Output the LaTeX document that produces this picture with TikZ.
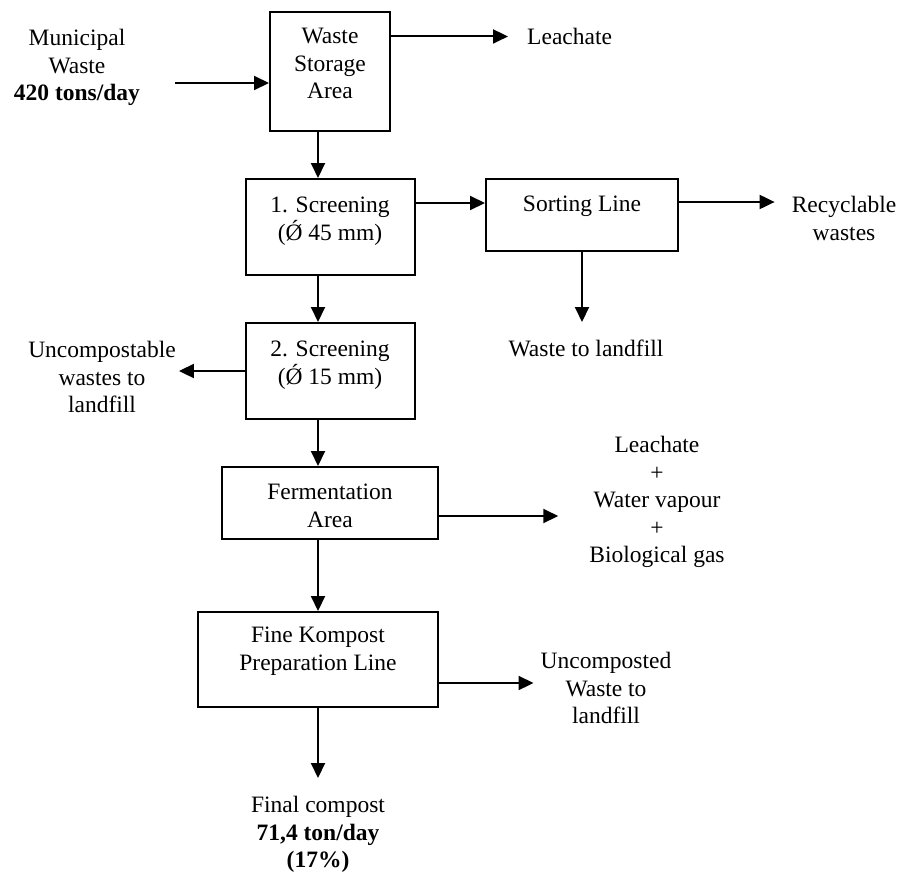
\documentclass[tikz,border=0pt]{standalone}
\usepackage{fontspec}
\setmainfont{Liberation Serif}
\usetikzlibrary{arrows.meta}

\begin{document}
\begin{tikzpicture}[x=1pt, y=-1pt,
    >={Triangle[length=15pt, width=14pt]},
    unit/.style={draw, line width=2pt, inner sep=0pt},
    txt/.style={font=\fontsize{23.5}{27.5}\selectfont, align=center,
        inner sep=0pt, anchor=north},
    flow/.style={->, line width=2pt}]
    \useasboundingbox (0,0) rectangle (904,873);

    % process units
    \node[unit, minimum width=120, minimum height=119] (storage) at (330,71) {};
    \node[unit, minimum width=169, minimum height=96] (screen1) at (330.5,227) {};
    \node[unit, minimum width=192, minimum height=72] (sorting) at (582,215) {};
    \node[unit, minimum width=169, minimum height=96] (screen2) at (330.5,371) {};
    \node[unit, minimum width=216, minimum height=72] (ferment) at (330,503) {};
    \node[unit, minimum width=240, minimum height=95] (fine) at (318,659.5) {};

    \node[txt] (storage-t) at (330,28) {Waste\\Storage\\Area};
    \node[txt] (screen1-t) at (330,197) {1. Screening\\(Ǿ 45 mm)};
    \node[txt] (sorting-t) at (582,196) {Sorting Line};
    \node[txt] (screen2-t) at (330,341) {2. Screening\\(Ǿ 15 mm)};
    \node[txt] (ferment-t) at (330,484) {Fermentation\\Area};
    \node[txt] (fine-t) at (318,627) {Fine Kompost\\Preparation Line};

    % inputs and outputs
    \node[txt] (muni) at (77,29) {Municipal\\Waste\\\textbf{420 tons/day}};
    \node[txt, anchor=north west] (leach) at (527,28) {Leachate};
    \node[txt] (recycl) at (844,196) {Recyclable\\wastes};
    \node[txt] (landfill) at (586,340) {Waste to landfill};
    \node[txt] (uncomp) at (102,341) {Uncompostable\\wastes to\\landfill};
    \node[txt] (gases) at (657,436)
        {Leachate\\+\\Water vapour\\+\\Biological gas};
    \node[txt] (uncomposted) at (606,652) {Uncomposted\\Waste to\\landfill};
    \node[txt] (final) at (318,796)
        {Final compost\\\textbf{71,4 ton/day}\\\textbf{(17\%)}};

    \coordinate (axis) at (318,0);
    \coordinate (muni-out) at (175,83);
    \coordinate (sort-in) at ([yshift=12pt]sorting.west);
    \coordinate (sort-out) at ([yshift=13pt]sorting.east);
    \coordinate (ferm-out) at ([yshift=-13pt]ferment.east);
    \coordinate (fine-out) at ([yshift=-23.5pt]fine.east);

    % main line
    \draw[flow] (muni-out) -- (muni-out -| storage.west);
    \draw[flow] (storage.south -| axis) -- (screen1.north -| axis);
    \draw[flow] (screen1.south -| axis) -- (screen2.north -| axis);
    \draw[flow] (screen2.south -| axis) -- (ferment.north -| axis);
    \draw[flow] (ferment.south -| axis) -- (fine.north -| axis);
    \draw[flow, shorten >=18pt] (fine.south) -- (final.north);

    % side streams
    \draw[flow, shorten >=19pt] (storage.east |- leach.west) -- (leach.west);
    \draw[flow] (screen1.east |- sort-in) -- (sort-in);
    \draw[flow, shorten >=17pt] (sort-out) -- (sort-out -| recycl.west);
    \draw[flow, shorten >=18pt] (sorting.south) -- (sorting.south |- landfill.north);
    \draw[flow, shorten >=3pt] (screen2.west) -- (screen2.west -| uncomp.east);
    \draw[flow, shorten >=31pt] (ferm-out) -- (ferm-out -| gases.west);
    \draw[flow, shorten >=7pt] (fine-out) -- (fine-out -| uncomposted.west);
\end{tikzpicture}
\end{document}
